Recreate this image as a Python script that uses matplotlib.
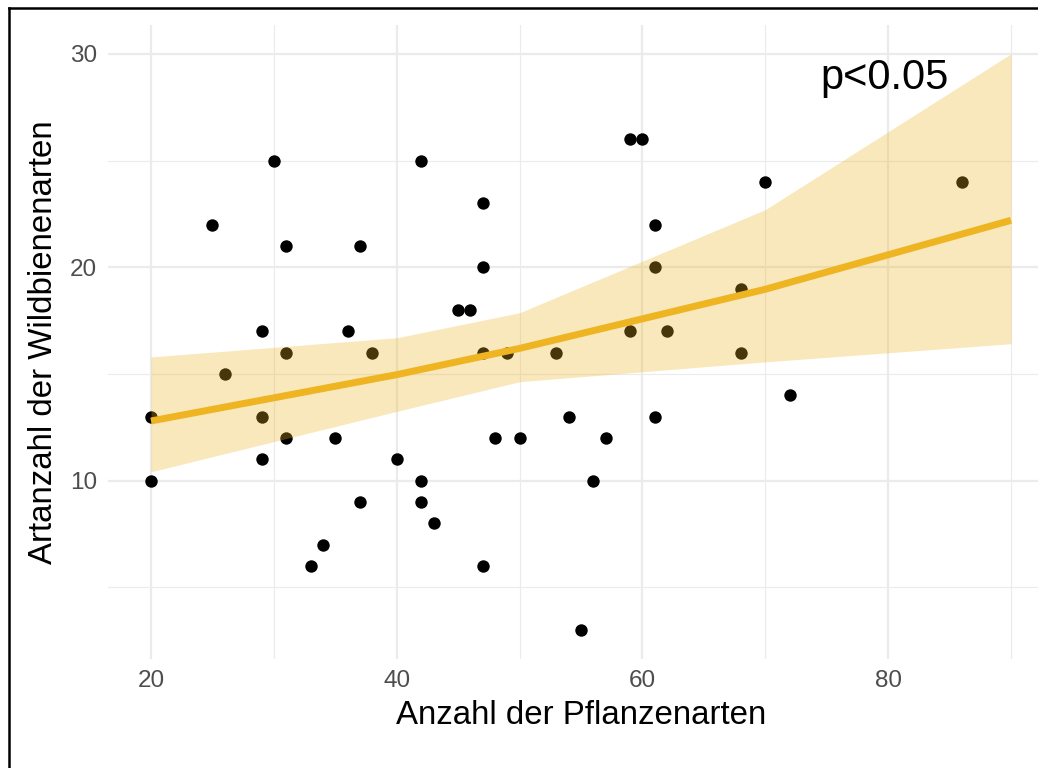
import matplotlib.pyplot as plt
from matplotlib.lines import Line2D

plt.rcParams['font.family'] = ['Liberation Sans', 'DejaVu Sans']

# ── data ──────────────────────────────────────────────────────
pflanzen = [20, 20, 25, 26, 29, 29, 29, 30, 31, 31, 31, 33, 34, 35, 36, 37, 37, 38,
            40, 42, 42, 42, 43, 45, 46, 47, 47, 47, 47, 48, 49, 50, 53, 54, 55, 56,
            57, 59, 60, 59, 61, 61, 61, 62, 68, 68, 70, 72, 86]
bienen = [13, 10, 22, 15, 17, 13, 11, 25, 21, 16, 12, 6, 7, 12, 17, 21, 9, 16,
          11, 25, 10, 9, 8, 18, 18, 23, 20, 16, 6, 12, 16, 12, 16, 13, 3, 10,
          12, 26, 26, 17, 22, 20, 13, 17, 19, 16, 24, 14, 24]

# fitted curve + confidence band
fit_x = [20, 40, 50, 70, 90]
fit_y = [12.8, 14.97, 16.2, 18.97, 22.2]
band_lo = [10.42, 13.25, 14.64, 15.57, 16.42]
band_hi = [15.8, 16.7, 17.87, 22.7, 30.0]

LINE_C = '#EEB422'
GRID_C = '#EBEBEB'

fig = plt.figure(figsize=(10.38, 7.68), dpi=100)
ax = fig.add_axes([108 / 1038, 109 / 768, 946 / 1038, 634 / 768])

ax.scatter(pflanzen, bienen, s=80, color='black', zorder=3, linewidths=0)
ax.fill_between(fit_x, band_lo, band_hi, color=LINE_C, alpha=0.3, lw=0, zorder=4)
ax.plot(fit_x, fit_y, color=LINE_C, lw=5, zorder=5, solid_capstyle='butt')

ax.text(74.5, 28.85, 'p<0.05', fontsize=30, color='black', ha='left', va='center', zorder=6)

ax.set_xlim(16.5, 93.5)
ax.set_ylim(1.65, 31.35)
ax.set_xticks([20, 40, 60, 80])
ax.set_yticks([10, 20, 30])
ax.set_xticks([30, 50, 70, 90], minor=True)
ax.set_yticks([5, 15, 25], minor=True)
ax.grid(which='major', color=GRID_C, lw=1.6, zorder=0)
ax.grid(which='minor', color=GRID_C, lw=0.8, zorder=0)
ax.set_axisbelow(True)
for s in ax.spines.values():
    s.set_visible(False)
ax.tick_params(which='both', length=0, labelsize=17.5, labelcolor='#4D4D4D', pad=8)

ax.set_xlabel('Anzahl der Pflanzenarten', fontsize=23.8, labelpad=6)
ax.set_ylabel('Artanzahl der Wildbienenarten', fontsize=23.8, labelpad=8)

# frame around the picture (left + top)
fig.add_artist(Line2D([9 / 1038, 9 / 1038], [0, 1 - 8 / 768], transform=fig.transFigure,
                      color='black', lw=1.8))
fig.add_artist(Line2D([9 / 1038, 1], [1 - 8 / 768, 1 - 8 / 768], transform=fig.transFigure,
                      color='black', lw=1.8))

fig.savefig('out.png', dpi=100, facecolor='white')
